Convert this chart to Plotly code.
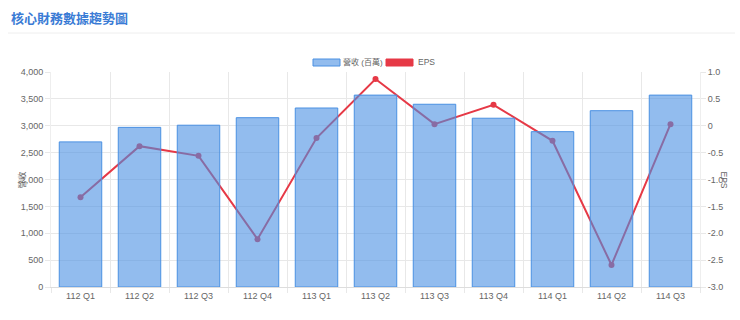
import plotly.graph_objects as go

categories = ["112 Q1", "112 Q2", "112 Q3", "112 Q4", "113 Q1", "113 Q2",
              "113 Q3", "113 Q4", "114 Q1", "114 Q2", "114 Q3"]
revenue = [2700, 2970, 3010, 3150, 3330, 3570, 3400, 3140, 2890, 3280, 3570]
eps = [-1.33, -0.38, -0.56, -2.11, -0.23, 0.87, 0.03, 0.39, -0.28, -2.59, 0.03]

rev_ticks = [0, 500, 1000, 1500, 2000, 2500, 3000, 3500, 4000]
eps_ticks = [-3.0, -2.5, -2.0, -1.5, -1.0, -0.5, 0, 0.5, 1.0]
eps_labels = ["-3.0", "-2.5", "-2.0", "-1.5", "-1.0", "-0.5", "0", "0.5", "1.0"]

FONT = "Liberation Sans, Arial, Noto Sans CJK TC, sans-serif"
BLUE = "rgb(74,144,226)"
BAR_FILL = "rgba(74,144,226,0.6)"
RED = "rgb(230,57,70)"
GRID = "#e8e8e8"
TXT = "#666666"

L, R, T, B = 51, 40, 72, 33
PW, PH = 740 - L - R, 320 - T - B


def px(x):
    return (x - L) / PW


def py(y):
    return 1 - (y - T) / PH


fig = go.Figure()

# EPS line (primary y, drawn beneath the bars which sit on the overlaying axis)
fig.add_trace(go.Scatter(
    x=categories, y=eps, name="EPS", mode="lines+markers",
    line=dict(color=RED, width=2), marker=dict(color=RED, size=6),
    yaxis="y", showlegend=False,
))
# Revenue bars
fig.add_trace(go.Bar(
    x=categories, y=revenue, name="營收 (百萬)",
    marker=dict(color=BAR_FILL, line=dict(color=BLUE, width=1)),
    width=0.72, yaxis="y2", showlegend=False,
))

# manual legend (boxes + labels)
legend_shapes = [
    dict(type="rect", xref="paper", yref="paper", x0=px(313), x1=px(340), y0=py(66), y1=py(59),
         fillcolor=BAR_FILL, line=dict(color=BLUE, width=1)),
    dict(type="rect", xref="paper", yref="paper", x0=px(386), x1=px(413), y0=py(66), y1=py(59),
         fillcolor=RED, line=dict(color=RED, width=1)),
]
legend_ann = [
    dict(text="營收 (百萬)", xref="paper", yref="paper", x=px(362.5), y=py(62.5),
         xanchor="center", yanchor="middle", showarrow=False, font=dict(size=8, color=TXT)),
    dict(text="EPS", xref="paper", yref="paper", x=px(416), y=py(62.5),
         xanchor="left", yanchor="middle", showarrow=False, font=dict(size=8.5, color=TXT)),
]

fig.update_layout(
    width=740, height=320,
    margin=dict(l=L, r=R, t=T, b=B),
    paper_bgcolor="white", plot_bgcolor="white",
    font=dict(family=FONT, size=9, color=TXT),
    barmode="overlay",
    showlegend=False,
    xaxis=dict(
        type="category", range=[-0.5, len(categories) - 0.5],
        tickson="boundaries", showgrid=True, gridcolor=GRID,
        ticks="outside", ticklen=5, tickcolor=GRID, showline=True, linecolor="#dddddd",
        tickfont=dict(size=9, color=TXT), zeroline=False, automargin=False,
    ),
    yaxis=dict(
        side="right", range=[-3.0, 1.0], tickvals=eps_ticks, ticktext=eps_labels,
        showgrid=True, gridcolor=GRID, zeroline=False, automargin=False,
        ticks="outside", ticklen=5, tickcolor=GRID, showline=True, linecolor="#eeeeee",
        tickfont=dict(size=9, color=TXT),
    ),
    yaxis2=dict(
        side="left", overlaying="y", range=[0, 4000], tickvals=rev_ticks,
        tickformat=",", showgrid=False, zeroline=False, automargin=False,
        ticks="outside", ticklen=5, tickcolor=GRID, showline=True, linecolor="#eeeeee",
        tickfont=dict(size=9, color=TXT),
    ),
    annotations=[
        dict(text="<b>核心財務數據趨勢圖</b>", xref="paper", yref="paper",
             x=px(9), y=py(18), xanchor="left", yanchor="middle", showarrow=False,
             font=dict(size=13, color="rgb(58,123,213)", family=FONT)),
        dict(text="營收", xref="paper", yref="paper", x=0, y=0.5, xshift=-37,
             textangle=-90, showarrow=False, font=dict(size=8.5, color=TXT)),
        dict(text="EPS", xref="paper", yref="paper", x=1, y=0.5, xshift=31,
             textangle=90, showarrow=False, font=dict(size=8.5, color=TXT)),
    ] + legend_ann,
    shapes=[
        dict(type="line", xref="paper", yref="paper",
             x0=px(8), x1=px(735), y0=py(33), y1=py(33),
             line=dict(color="#eeeeee", width=1)),
    ] + legend_shapes,
)

fig.write_html("out.html")
